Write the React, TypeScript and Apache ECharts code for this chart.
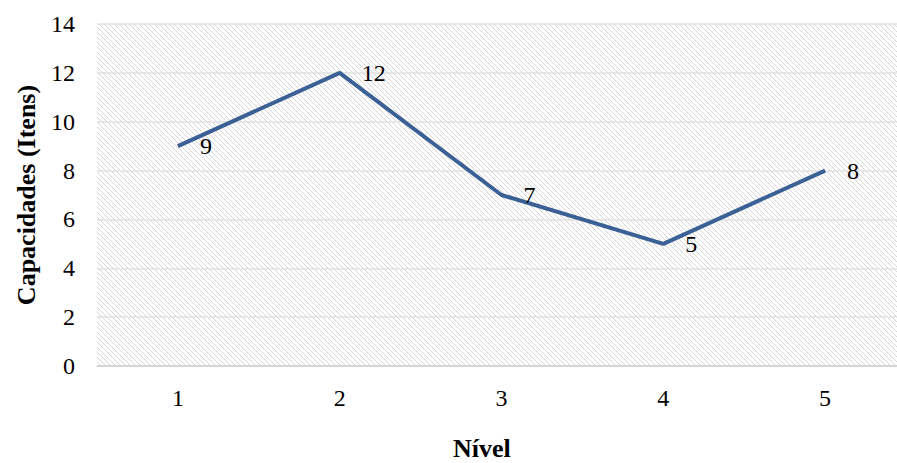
import React, { useEffect, useRef } from "react";
import * as echarts from "echarts";

const categories = ["1", "2", "3", "4", "5"];
const values = [9, 12, 7, 5, 8];
const yTicks = { min: 0, max: 14, interval: 2 };
const xTitle = "Nível";
const yTitle = "Capacidades (Itens)";

const FONT = "Liberation Serif";

const hatchSvg =
  "<svg xmlns='http://www.w3.org/2000/svg' width='5' height='5'>" +
  "<rect width='5' height='5' fill='white'/>" +
  "<path d='M0,0 L5,5 M-1,4 L1,6 M4,-1 L6,1' stroke='#d6d6d6' stroke-width='1'/>" +
  "</svg>";
const hatchUrl = "data:image/svg+xml;charset=utf-8," + encodeURIComponent(hatchSvg);

export default function App() {
  const ref = useRef<HTMLDivElement>(null);
  useEffect(() => {
    document.body.style.margin = "0";
    document.body.style.overflow = "hidden";
    if (!ref.current) return;
    const chart = echarts.init(ref.current, undefined, { renderer: "svg" });
    chart.setOption({
      animation: false,
      grid: {
        left: 97,
        top: 24,
        right: 0,
        bottom: 97,
        show: true,
        borderWidth: 0,
        backgroundColor: { image: hatchUrl, repeat: "repeat" } as any,
      },
      graphic: [
        {
          type: "text",
          left: 453,
          top: 435,
          style: { text: xTitle, font: `bold 26px "${FONT}"`, fill: "#000" },
        },
        {
          type: "text",
          x: 26,
          y: 195,
          rotation: Math.PI / 2,
          style: {
            text: yTitle,
            font: `bold 26px "${FONT}"`,
            fill: "#000",
            align: "center",
            verticalAlign: "middle",
          },
        },
      ],
      xAxis: {
        type: "category",
        data: categories,
        boundaryGap: true,
        axisLine: { show: true, lineStyle: { color: "#d0d0d0", width: 1.5 } },
        axisTick: { show: false },
        axisLabel: { fontFamily: FONT, fontSize: 24, color: "#000", margin: 20 },
      },
      yAxis: {
        type: "value",
        min: yTicks.min,
        max: yTicks.max,
        interval: yTicks.interval,
        axisLine: { show: false },
        axisTick: { show: false },
        splitLine: { lineStyle: { color: "#e0e0e0", width: 1.5 } },
        axisLabel: { fontFamily: FONT, fontSize: 24, color: "#000", margin: 22 },
      },
      series: [
        {
          type: "line",
          data: values,
          symbol: "circle",
          symbolSize: 0,
          showSymbol: true,
          lineStyle: { color: "#3b6095", width: 4 },
          itemStyle: { color: "#3b6095" },
          label: {
            show: true,
            position: "right",
            distance: 22,
            fontFamily: FONT,
            fontSize: 24,
            color: "#000",
          },
        },
      ],
    });
    return () => chart.dispose();
  }, []);
  return <div ref={ref} style={{ width: 906, height: 463 }} />;
}
